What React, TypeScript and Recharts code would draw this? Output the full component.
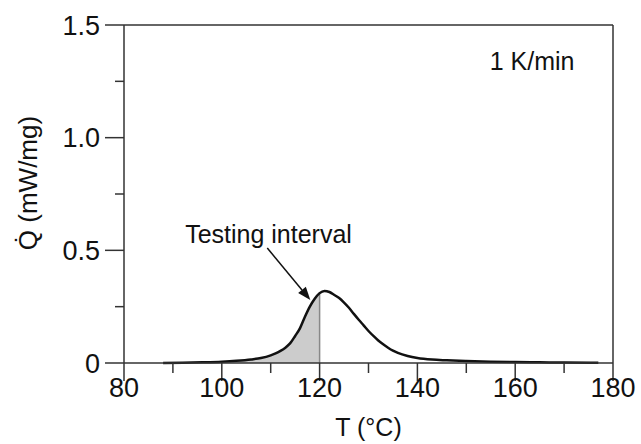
import {
  ComposedChart,
  Line,
  Area,
  XAxis,
  YAxis,
  ReferenceLine,
  ReferenceDot,
} from "recharts";

const temps = [
  88, 92, 96, 100, 103, 106, 108, 110, 111, 112, 113, 114, 115, 116, 117, 118,
  119, 120, 121, 122, 123, 124, 125, 126, 127, 128, 129, 130, 131, 132, 133,
  134, 135, 136, 138, 140, 143, 146, 150, 155, 160, 165, 170, 177,
];
const heatFlow = [
  0.0, 0.001, 0.003, 0.006, 0.01, 0.016, 0.022, 0.034, 0.043, 0.054, 0.068,
  0.088, 0.12, 0.155, 0.205, 0.25, 0.285, 0.31, 0.32, 0.315, 0.302, 0.288,
  0.268, 0.245, 0.218, 0.192, 0.167, 0.142, 0.12, 0.1, 0.083, 0.068, 0.055,
  0.045, 0.031, 0.022, 0.015, 0.012, 0.009, 0.006, 0.004, 0.003, 0.002, 0.001,
];

const xTicks = [80, 90, 100, 110, 120, 130, 140, 150, 160, 170, 180];
const xMajor = [80, 100, 120, 140, 160, 180];
const yTicks = [0, 0.25, 0.5, 0.75, 1.0, 1.25, 1.5];
const yLabels: Record<string, string> = { "0": "0", "0.5": "0.5", "1": "1.0", "1.5": "1.5" };

const intervalEnd = 120;
const intervalText = "Testing interval";
const intervalTextPos = { x: 92.5, y: 0.533 };
const arrowFrom = { x: 109.3, y: 0.51 };
const arrowTo = { x: 118.1, y: 0.28 };
const rateText = "1 K/min";
const rateTextPos = { x: 154.8, y: 1.302 };

const data = temps.map((t, i) => ({
  t,
  q: heatFlow[i],
  shaded: t <= intervalEnd ? heatFlow[i] : null,
}));
const qAtEnd = heatFlow[temps.indexOf(intervalEnd)];

const FONT = "'Liberation Sans', Arial, sans-serif";
const AXIS = "#333";

const YTick = (props: any) => {
  const { x, y, payload } = props;
  const label = yLabels[String(payload.value)];
  const len = label ? 19 : 9;
  return (
    <g>
      <line x1={x - len} x2={x} y1={y} y2={y} stroke={AXIS} strokeWidth={1.5} />
      {label && (
        <text x={x - 24} y={y} dy="0.36em" textAnchor="end" fontSize={27} fill="#111" fontFamily={FONT}>
          {label}
        </text>
      )}
    </g>
  );
};

const XTick = (props: any) => {
  const { x, y, payload } = props;
  const major = xMajor.includes(payload.value);
  const len = major ? 18 : 10;
  return (
    <g>
      <line x1={x} x2={x} y1={y} y2={y + len} stroke={AXIS} strokeWidth={1.5} />
      {major && (
        <text x={x} y={y + 34} textAnchor="middle" fontSize={27} fill="#111" fontFamily={FONT}>
          {payload.value}
        </text>
      )}
    </g>
  );
};

const Arrow = (p: any) => {
  const { x1, y1, x2, y2 } = p;
  const ang = Math.atan2(y2 - y1, x2 - x1);
  const L = 13;
  const W = 5;
  const bx = x2 - L * Math.cos(ang);
  const by = y2 - L * Math.sin(ang);
  const nx = -Math.sin(ang) * W;
  const ny = Math.cos(ang) * W;
  return (
    <g>
      <line x1={x1} y1={y1} x2={bx} y2={by} stroke="#111" strokeWidth={1.5} />
      <polygon points={`${x2},${y2} ${bx + nx},${by + ny} ${bx - nx},${by - ny}`} fill="#111" />
    </g>
  );
};

const textShape = (text: string) => (p: any) => (
  <text x={p.cx} y={p.cy} fontSize={25} fill="#111" fontFamily={FONT}>
    {text}
  </text>
);

export default function App() {
  return (
    <div style={{ position: "absolute", left: 0, top: 0, background: "#fff" }}>
      <ComposedChart
        width={641}
        height={444}
        data={data}
        margin={{ top: 25, right: 28, bottom: 0, left: 0 }}
      >
        <XAxis
          dataKey="t"
          type="number"
          domain={[80, 180]}
          ticks={xTicks}
          interval={0}
          height={81}
          tickSize={0}
          tickMargin={0}
          tickLine={false}
          tick={<XTick />}
          axisLine={{ stroke: AXIS, strokeWidth: 1.5 }}
          label={(p: any) => (
            <text
              x={p.viewBox.x + p.viewBox.width / 2}
              y={436}
              textAnchor="middle"
              fontSize={25}
              fill="#111"
              fontFamily={FONT}
            >
              T (°C)
            </text>
          )}
        />
        <YAxis
          type="number"
          domain={[0, 1.5]}
          ticks={yTicks}
          interval={0}
          width={124}
          tickSize={0}
          tickMargin={0}
          tickLine={false}
          tick={<YTick />}
          axisLine={{ stroke: AXIS, strokeWidth: 1.5 }}
          label={(p: any) => {
            const cy = p.viewBox.y + p.viewBox.height / 2 - 11;
            const cx = 37;
            return (
              <text
                x={cx}
                y={cy}
                transform={`rotate(-90, ${cx}, ${cy})`}
                textAnchor="middle"
                fontSize={26}
                fill="#111"
                fontFamily={FONT}
              >
                {"Q\u0307 (mW/mg)"}
              </text>
            );
          }}
        />
        <ReferenceLine y={1.5} stroke={AXIS} strokeWidth={1.5} />
        <ReferenceLine x={180} stroke={AXIS} strokeWidth={1.5} />
        <Area
          dataKey="shaded"
          type="monotone"
          fill="#cccccc"
          fillOpacity={1}
          stroke="none"
          connectNulls={false}
          isAnimationActive={false}
        />
        <ReferenceLine
          segment={[
            { x: intervalEnd, y: 0 },
            { x: intervalEnd, y: qAtEnd },
          ]}
          stroke="#888"
          strokeWidth={1.5}
        />
        <Line
          dataKey="q"
          type="monotone"
          stroke="#111"
          strokeWidth={2.5}
          dot={false}
          activeDot={false}
          isAnimationActive={false}
        />
        <ReferenceLine
          segment={[arrowFrom, arrowTo]}
          shape={<Arrow />}
        />
        <ReferenceDot
          x={intervalTextPos.x}
          y={intervalTextPos.y}
          shape={textShape(intervalText)}
        />
        <ReferenceDot
          x={rateTextPos.x}
          y={rateTextPos.y}
          shape={textShape(rateText)}
        />
      </ComposedChart>
    </div>
  );
}
